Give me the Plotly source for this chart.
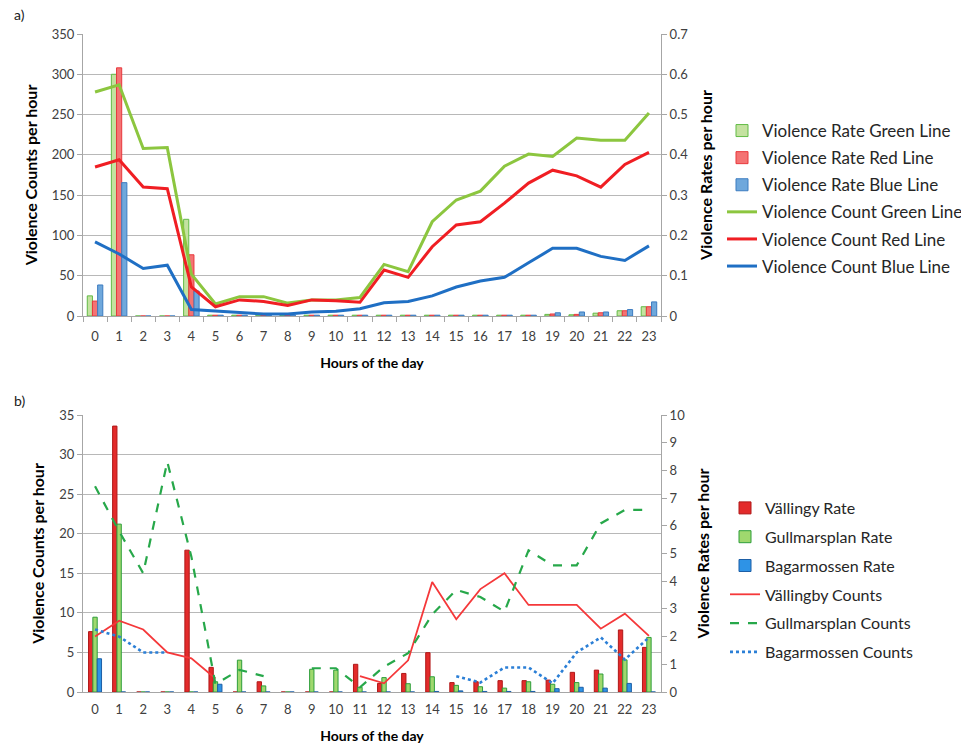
import plotly.graph_objects as go

hours = [str(h) for h in range(24)]

# ---------------- Panel a) ----------------
rate_green_a = [0.050, 0.600, 0, 0, 0.240, 0.002, 0.002, 0.002, 0.002, 0.002, 0.002, 0.002,
                0.002, 0.002, 0.002, 0.002, 0.002, 0.002, 0.002, 0.004, 0.003, 0.007, 0.013, 0.023]
rate_red_a = [0.037, 0.616, 0, 0, 0.152, 0.002, 0.002, 0.002, 0.002, 0.002, 0.002, 0.002,
              0.002, 0.002, 0.002, 0.002, 0.002, 0.002, 0.002, 0.005, 0.004, 0.008, 0.013, 0.023]
rate_blue_a = [0.077, 0.331, 0, 0, 0.062, 0.002, 0.002, 0.002, 0.002, 0.002, 0.002, 0.002,
               0.002, 0.002, 0.002, 0.002, 0.002, 0.002, 0.002, 0.008, 0.010, 0.010, 0.016, 0.035]

count_green_a = [278, 287, 208, 209, 52, 15, 24, 24, 16, 20, 20, 23,
                 64, 55, 117, 144, 155, 186, 201, 198, 221, 218, 218, 252]
count_red_a = [185, 194, 160, 158, 36, 11.5, 20, 18, 13, 20, 19, 17,
               57, 48, 86, 113, 117, 140, 165, 181, 174, 160, 188, 203]
count_blue_a = [92, 77, 59, 63, 8, 6, 4, 2.5, 2.5, 5, 6, 9,
                16.5, 18, 25, 36, 43.5, 48, 66, 84, 84, 74, 69, 87]

# ---------------- Panel b) ----------------
rate_vall_b = [2.18, 9.60, 0, 0, 5.12, 0.89, 0, 0.37, 0, 0, 0, 1.00,
               0.31, 0.67, 1.42, 0.34, 0.37, 0.41, 0.41, 0.43, 0.71, 0.79, 2.24, 1.61]
rate_gull_b = [2.70, 6.06, 0, 0, 0, 0.37, 1.15, 0.22, 0, 0.82, 0.79, 0.17,
               0.52, 0.30, 0.55, 0.24, 0.19, 0.14, 0.37, 0.28, 0.34, 0.65, 1.16, 1.97]
rate_baga_b = [1.20, 0, 0, 0, 0, 0.28, 0, 0, 0, 0, 0, 0,
               0, 0, 0.02, 0.04, 0.02, 0.02, 0.02, 0.12, 0.17, 0.14, 0.31, 0]

count_vall_b = [7.0, 9.0, 7.9, 5.0, 4.25, 1.7, None, None, None, None, None, 2.0,
                1.1, 4.0, 13.9, 9.2, 13.0, 15.0, 11.0, 11.0, 11.0, 8.0, 9.9, 7.1]
count_gull_b = [26.0, 20.3, 15.0, 29.1, 17.1, 1.0, 2.8, 2.0, None, 3.0, 3.0, 0.6,
                3.2, 4.9, 9.8, 12.9, 12.0, 10.15, 17.9, 16.0, 16.0, 21.3, 23.0, 23.0]
count_baga_b = [7.9, 7.0, 5.0, 5.0, None, None, None, None, None, None, None, None,
                None, None, None, 2.0, 1.2, 3.1, 3.1, 1.1, 5.0, 6.9, 4.1, 6.9]

FONT = "Lato"
TICKC = "#404040"
AXC = "#a6a6a6"
GRIDC = "#b8b8b8"

fig = go.Figure()

# Panel a bars (right axis 'y')
wa = 0.215
for i, (name, vals, fill, edge) in enumerate([
        ("Violence Rate Green Line", rate_green_a, "#c4e2a0", "#62bb46"),
        ("Violence Rate Red Line", rate_red_a, "#f47373", "#e8383d"),
        ("Violence Rate Blue Line", rate_blue_a, "#6fa8dc", "#3d7cc0")]):
    fig.add_trace(go.Bar(x=hours, y=vals, name=name, xaxis="x", yaxis="y",
                         width=wa, offset=-1.5 * wa + i * wa,
                         marker=dict(color=fill, line=dict(color=edge, width=1)),
                         legend="legend", legendgroup=name))

# Panel a lines (left axis 'y2')
for name, vals, col in [
        ("Violence Count Green Line", count_green_a, "#8cc63f"),
        ("Violence Count Red Line", count_red_a, "#f01e23"),
        ("Violence Count Blue Line", count_blue_a, "#1f6fc4")]:
    fig.add_trace(go.Scatter(x=hours, y=vals, name=name, xaxis="x", yaxis="y2",
                             mode="lines", line=dict(color=col, width=3),
                             legend="legend", legendgroup=name))

# Panel b bars (right axis 'y3')
wb = 0.18
for i, (name, vals, fill, edge) in enumerate([
        ("Vällingy Rate", rate_vall_b, "#e32b2b", "#b01818"),
        ("Gullmarsplan Rate", rate_gull_b, "#9fd86e", "#2e9e3a"),
        ("Bagarmossen Rate", rate_baga_b, "#2e93e6", "#1d5fa6")]):
    fig.add_trace(go.Bar(x=hours, y=vals, name=name, xaxis="x2", yaxis="y3",
                         width=wb, offset=-1.5 * wb + i * wb,
                         marker=dict(color=fill, line=dict(color=edge, width=1)),
                         legend="legend2", legendgroup=name))

# Panel b lines (left axis 'y4')
for name, vals, col, dash, w in [
        ("Vällingby Counts", count_vall_b, "#f5383a", "solid", 1.8),
        ("Gullmarsplan Counts", count_gull_b, "#27a84a", "dash", 2.2),
        ("Bagarmossen Counts", count_baga_b, "#2b7fd6", "dot", 2.6)]:
    fig.add_trace(go.Scatter(x=hours, y=vals, name=name, xaxis="x2", yaxis="y4",
                             mode="lines", line=dict(color=col, width=w, dash=dash),
                             legend="legend2", legendgroup=name))

xd = [83 / 961, 661 / 961]
ya = [1 - 316 / 748, 1 - 34 / 748]
yb = [1 - 692 / 748, 1 - 415 / 748]

tickfont = dict(family=FONT, size=13, color=TICKC)
xtitlefont = dict(family=FONT, size=14, color="#000000", weight="bold")
ytitlefont = dict(family=FONT, size=16, color="#000000", weight="bold")

common_x = dict(type="category", tickson="boundaries", showline=True, linecolor=AXC,
                linewidth=1, showgrid=False, tickfont=tickfont, range=[-0.5, 23.5],
                tickangle=0)

yc = dict(zeroline=False, showline=True, linecolor=AXC, ticks="outside", ticklen=5,
          tickcolor=AXC, tickfont=tickfont)

fig.update_layout(
    width=961, height=748,
    margin=dict(l=0, r=0, t=0, b=0, autoexpand=False),
    paper_bgcolor="white", plot_bgcolor="white",
    font=dict(family=FONT, color=TICKC),
    barmode="overlay",
    xaxis=dict(domain=xd, anchor="y", ticks="outside", ticklen=5, tickcolor=AXC,
               ticklabelstandoff=8,
               title=dict(text="Hours of the day", font=xtitlefont, standoff=15), **common_x),
    xaxis2=dict(domain=xd, anchor="y3", ticks="", ticklabelstandoff=5,
                title=dict(text="Hours of the day", font=xtitlefont, standoff=15), **common_x),
    yaxis=dict(domain=ya, anchor="x", side="right", range=[0, 0.7], dtick=0.1,
               showgrid=False, **yc,
               title=dict(text="Violence Rates per hour", font=ytitlefont, standoff=13)),
    yaxis2=dict(overlaying="y", anchor="x", side="left", range=[0, 350], dtick=50,
                showgrid=True, gridcolor=GRIDC, gridwidth=1, **yc,
                title=dict(text="Violence Counts per hour", font=ytitlefont, standoff=10)),
    yaxis3=dict(domain=yb, anchor="x2", side="right", range=[0, 10], dtick=1,
                showgrid=False, **yc,
                title=dict(text="Violence Rates per hour", font=ytitlefont, standoff=13)),
    yaxis4=dict(overlaying="y3", anchor="x2", side="left", range=[0, 35], dtick=5,
                showgrid=True, gridcolor=GRIDC, gridwidth=1, **yc,
                title=dict(text="Violence Counts per hour", font=ytitlefont, standoff=10)),
    legend=dict(x=722 / 961, y=1 - 113 / 748, xanchor="left", yanchor="top",
                font=dict(family=FONT, size=17, color="#262626"), tracegroupgap=2,
                itemwidth=30, bgcolor="rgba(0,0,0,0)", traceorder="grouped"),
    legend2=dict(x=725 / 961, y=1 - 491 / 748, xanchor="left", yanchor="top",
                 font=dict(family=FONT, size=16, color="#262626"), tracegroupgap=5,
                 itemwidth=30, bgcolor="rgba(0,0,0,0)", traceorder="grouped"),
    annotations=[
        dict(text="a)", x=12 / 961, y=1 - 15 / 748, xref="paper", yref="paper",
             xanchor="left", yanchor="middle", showarrow=False,
             font=dict(family=FONT, size=14, color="#202020")),
        dict(text="b)", x=12 / 961, y=1 - 400 / 748, xref="paper", yref="paper",
             xanchor="left", yanchor="middle", showarrow=False,
             font=dict(family=FONT, size=14, color="#202020")),
    ],
)

fig.write_html("out.html", config={"displayModeBar": False},
               post_script="document.body.style.margin='0px';")
